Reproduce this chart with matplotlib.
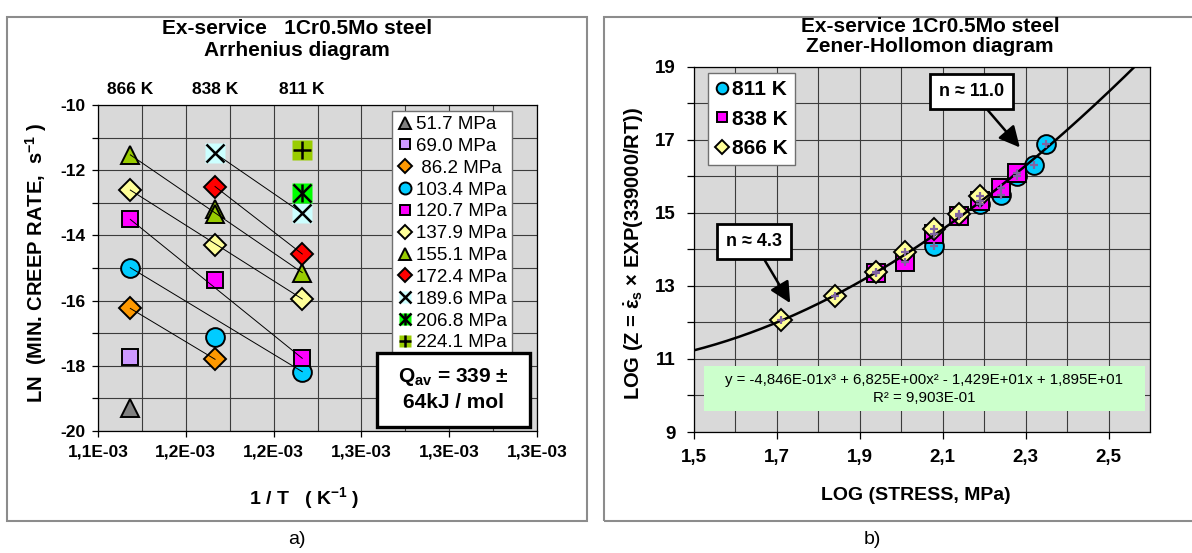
import numpy as np
import matplotlib
matplotlib.use("Agg")
import matplotlib.pyplot as plt
import matplotlib.transforms as mtransforms
from matplotlib.patches import Rectangle
from matplotlib.ticker import FixedLocator, MultipleLocator, FuncFormatter

plt.rcParams['font.family'] = ['Liberation Sans', 'DejaVu Sans']
plt.rcParams['font.weight'] = 'bold'
plt.rcParams['axes.labelweight'] = 'bold'
plt.rcParams['axes.unicode_minus'] = False
plt.rcParams['mathtext.fontset'] = 'custom'
plt.rcParams['mathtext.rm'] = 'Liberation Sans:bold'
plt.rcParams['mathtext.it'] = 'Liberation Sans:italic:bold'
plt.rcParams['mathtext.bf'] = 'Liberation Sans:bold'

# ---------------- Arrhenius diagram data: test temperature (K) and ln(min. creep rate)
stress_labels = ['51.7 MPa', '69.0 MPa', ' 86.2 MPa', '103.4 MPa', '120.7 MPa',
                 '137.9 MPa', '155.1 MPa', '172.4 MPa', '189.6 MPa', '206.8 MPa', '224.1 MPa']
T_517, LN_517 = [866], [-19.30]
T_690, LN_690 = [866], [-17.72]
T_862, LN_862 = [866, 838], [-16.24, -17.80]
T_1034, LN_1034 = [866, 838, 811], [-14.99, -17.13, -18.18]
T_1207, LN_1207 = [866, 838, 811], [-13.51, -15.37, -17.77]
T_1379, LN_1379 = [866, 838, 811], [-12.61, -14.29, -15.95]
T_1551, LN_1551 = [866, 838, 838, 811], [-11.53, -13.20, -13.35, -15.14]
T_1724, LN_1724 = [838, 811], [-12.50, -14.57]
T_1896, LN_1896 = [838, 811], [-11.48, -13.32]
T_2068, LN_2068 = [811], [-12.69]
T_2241, LN_2241 = [811], [-11.38]
temperature_labels = [866, 838, 811]

# ---------------- Zener-Hollomon diagram data: log(stress) and log(Z)
LOGS_811 = [2.08, 2.19, 2.24, 2.28, 2.32, 2.35]
LOGZ_811 = [14.08, 15.25, 15.49, 16.00, 16.31, 16.88]
LOGS_838 = [1.94, 2.01, 2.08, 2.14, 2.19, 2.24, 2.28]
LOGZ_838 = [13.36, 13.66, 14.42, 14.90, 15.33, 15.67, 16.10]
LOGS_866 = [1.71, 1.84, 1.94, 2.01, 2.08, 2.14, 2.19]
LOGZ_866 = [12.06, 12.73, 13.38, 13.93, 14.56, 14.97, 15.45]
fit_coeffs = [-4.846e-01, 6.825e+00, -1.429e+01, 1.895e+01]
fit_r2 = 9.903e-01

W, H = 1192, 553
fig = plt.figure(figsize=(W / 100, H / 100), dpi=100)
fig.patch.set_facecolor('white')

# panel frames
fig.patches.append(Rectangle((7 / W, 1 - 521 / H), 580 / W, 504 / H, transform=fig.transFigure,
                             fill=False, ec='#8c8c8c', lw=1.5))
fig.patches.append(Rectangle((604 / W, 1 - 521 / H), 600 / W, 504 / H, transform=fig.transFigure,
                             fill=False, ec='#8c8c8c', lw=1.5))

GRID = '#3c3c3c'
BG = '#D9D9D9'

# =============================== a) Arrhenius diagram
axL = fig.add_axes([98 / W, 1 - 431 / H, 439 / W, 326 / H])
axL.set_facecolor(BG)
axL.set_xlim(1.14e-3, 1.34e-3)
axL.set_ylim(-20, -10)
axL.xaxis.set_major_locator(FixedLocator(1.14e-3 + 0.04e-3 * np.arange(6)))
axL.xaxis.set_minor_locator(FixedLocator(1.16e-3 + 0.04e-3 * np.arange(5)))
axL.xaxis.set_major_formatter(FuncFormatter(lambda v, p: f'{v * 1e3:.1f}E-03'.replace('.', ',')))
axL.yaxis.set_major_locator(MultipleLocator(2))
axL.yaxis.set_minor_locator(MultipleLocator(1))
axL.yaxis.set_major_formatter(FuncFormatter(lambda v, p: f'{v:.0f}'))
axL.tick_params(axis='both', which='both', direction='out', length=4, width=0.9,
                labelsize=12.5, pad=5)
axL.tick_params(axis='x', which='minor', length=0)
axL.tick_params(axis='x', which='major', pad=6)
axL.grid(True, which='both', color=GRID, lw=0.8)
axL.set_axisbelow(True)
for sp in axL.spines.values():
    sp.set_color('black')
    sp.set_linewidth(0.9)

series_L = [
    (T_517, LN_517, dict(marker='^', ms=13, mfc='#808080')),
    (T_690, LN_690, dict(marker='s', ms=12, mfc='#CC99FF')),
    (T_862, LN_862, dict(marker='D', ms=11.5, mfc='#FF9900')),
    (T_1034, LN_1034, dict(marker='o', ms=13.5, mfc='#00CCFF')),
    (T_1207, LN_1207, dict(marker='s', ms=12, mfc='#FF00FF')),
    (T_1379, LN_1379, dict(marker='D', ms=11.5, mfc='#FFFF99')),
    (T_1551, LN_1551, dict(marker='^', ms=13, mfc='#99CC00')),
    (T_1724, LN_1724, dict(marker='D', ms=11.5, mfc='#FF0000')),
    (T_1896, LN_1896, dict(bg='#CCFFFF', glyphs=['x'])),
    (T_2068, LN_2068, dict(bg='#00FF00', glyphs=['x', '|'])),
    (T_2241, LN_2241, dict(bg='#99CC00', glyphs=['+'])),
]

handles = []
for T, LN, st in series_L:
    x = 1.0 / np.asarray(T, dtype=float)
    y = np.asarray(LN, dtype=float)
    if 'bg' in st:
        parts = [axL.plot(x, y, ls='none', marker='s', ms=14.5, mfc=st['bg'], mec='none', zorder=3)[0]]
        for g in st['glyphs']:
            parts += axL.plot(x, y, ls='none', marker=g, ms=13, mec='black', mew=1.8, zorder=3)
        handles.append(tuple(parts))
    else:
        h, = axL.plot(x, y, ls='none', marker=st['marker'], ms=st['ms'], mfc=st['mfc'],
                      mec='black', mew=1.4, zorder=3)
        handles.append(h)
    if len(x) > 1:
        axL.plot([x[0], x[-1]], [y[0], y[-1]], color='black', lw=0.7, zorder=4)

legL = axL.legend(handles, stress_labels, loc='upper left', bbox_to_anchor=(0.670, 0.982),
                  borderaxespad=0, prop={'size': 13.5, 'weight': 'normal'}, frameon=True,
                  fancybox=False, edgecolor='#707070', framealpha=1, handlelength=0.85,
                  handletextpad=0.12, labelspacing=0.25, borderpad=0.28, markerscale=0.64)
legL.get_frame().set_linewidth(1.0)

# activation energy box
axL.add_patch(Rectangle((0.635, 0.013), 0.349, 0.226, transform=axL.transAxes,
                        fc='white', ec='black', lw=2.4, zorder=6))
axL.text(0.809, 0.165, r'Q$_{\mathbf{av}}$ = 339 ±', transform=axL.transAxes, ha='center',
         va='center', fontsize=15, zorder=7)
axL.text(0.809, 0.088, '64kJ / mol', transform=axL.transAxes, ha='center', va='center',
         fontsize=15, zorder=7)

# temperature labels above the plot
tr = mtransforms.blended_transform_factory(axL.transData, axL.transAxes)
for Tk in temperature_labels:
    axL.text(1.0 / Tk, 1.049, f'{Tk} K', transform=tr, ha='center', va='center', fontsize=12.5)

axL.set_ylabel('LN  (MIN. CREEP RATE,  s$^{\\mathbf{-1}}$ )', fontsize=14.5)
axL.yaxis.set_label_coords(-0.112, 0.515)
axL.set_xlabel('1 / T   ( K$^{\\mathbf{-1}}$ )', fontsize=14)
axL.xaxis.set_label_coords(0.47, -0.165)

fig.text(297 / W, 1 - 29 / H, 'Ex-service   1Cr0.5Mo steel', ha='center', va='center', fontsize=15)
fig.text(297 / W, 1 - 51 / H, 'Arrhenius diagram', ha='center', va='center', fontsize=15)
fig.text(297 / W, 1 - 540 / H, 'a)', ha='center', va='center', fontsize=14, fontweight='normal')

# =============================== b) Zener-Hollomon diagram
axR = fig.add_axes([694 / W, 1 - 432 / H, 456 / W, 365.3 / H])
axR.set_facecolor(BG)
axR.set_xlim(1.5, 2.6)
axR.set_ylim(9, 19)
axR.xaxis.set_major_locator(FixedLocator([1.5, 1.7, 1.9, 2.1, 2.3, 2.5]))
axR.xaxis.set_minor_locator(FixedLocator([1.6, 1.8, 2.0, 2.2, 2.4, 2.6]))
axR.xaxis.set_major_formatter(FuncFormatter(lambda v, p: f'{v:.1f}'.replace('.', ',')))
axR.yaxis.set_major_locator(FixedLocator([9, 11, 13, 15, 17, 19]))
axR.yaxis.set_minor_locator(MultipleLocator(1))
axR.yaxis.set_major_formatter(FuncFormatter(lambda v, p: f'{v:.0f}'))
axR.tick_params(axis='both', which='both', direction='out', length=5, width=0.9, labelsize=13.5)
axR.tick_params(axis='x', which='minor', length=0)
axR.tick_params(axis='x', which='major', pad=7)
axR.tick_params(axis='y', which='major', pad=8)
axR.grid(True, which='both', color=GRID, lw=0.8)
axR.set_axisbelow(True)
for sp in axR.spines.values():
    sp.set_color('black')
    sp.set_linewidth(0.9)

h811, = axR.plot(LOGS_811, LOGZ_811, ls='none', marker='o', ms=13.5, mfc='#00CCFF', mec='black',
                 mew=1.4, zorder=3, label='811 K')
h838, = axR.plot(LOGS_838, LOGZ_838, ls='none', marker='s', ms=12.5, mfc='#FF00FF', mec='black',
                 mew=1.4, zorder=3, label='838 K')
h866, = axR.plot(LOGS_866, LOGZ_866, ls='none', marker='D', ms=11, mfc='#FFFF99', mec='black',
                 mew=1.4, zorder=3, label='866 K')
for xs, ys in [(LOGS_811, LOGZ_811), (LOGS_838, LOGZ_838), (LOGS_866, LOGZ_866)]:
    axR.plot(xs, ys, ls='none', marker='+', ms=6, mec='#8064A2', mew=1.6, zorder=5)

xs_fit = np.linspace(1.5, 2.6, 400)
axR.plot(xs_fit, np.polyval(fit_coeffs, xs_fit), color='black', lw=1.8, zorder=4)

legR = axR.legend(handles=[h811, h838, h866], loc='upper left', bbox_to_anchor=(0.031, 0.983),
                  borderaxespad=0, prop={'size': 15, 'weight': 'bold'}, frameon=True,
                  fancybox=False, edgecolor='#707070', framealpha=1, handlelength=0.65,
                  handletextpad=0.15, labelspacing=0.5, borderpad=0.35, markerscale=0.62)
legR.get_frame().set_linewidth(1.0)


def sci_comma(v):
    return f'{v:.3E}'.replace('.', ',')


c3, c2, c1, c0 = fit_coeffs
eq = (f'y = {sci_comma(c3)}x³ {"+" if c2 >= 0 else "-"} {sci_comma(abs(c2))}x² '
      f'{"+" if c1 >= 0 else "-"} {sci_comma(abs(c1))}x {"+" if c0 >= 0 else "-"} {sci_comma(abs(c0))}')
axR.add_patch(Rectangle((0.022, 0.058), 0.967, 0.123, transform=axR.transAxes,
                        fc='#CCFFCC', ec='none', zorder=6))
axR.text(0.505, 0.142, eq, transform=axR.transAxes, ha='center', va='center', fontsize=10.8,
         fontweight='normal', zorder=7)
axR.text(0.505, 0.093, f'R² = {sci_comma(fit_r2)}', transform=axR.transAxes, ha='center',
         va='center', fontsize=10.8, fontweight='normal', zorder=7)

arrow = dict(arrowstyle='-|>,head_length=0.9,head_width=0.45', color='black', lw=1.8,
             mutation_scale=14, shrinkA=0, shrinkB=0)
box = dict(boxstyle='square,pad=0.5', fc='white', ec='black', lw=2.0)
axR.annotate('n ≈ 4.3', xy=(1.732, 12.53), xytext=(1.644, 14.21), ha='center', va='center',
             fontsize=13, bbox=box, arrowprops=arrow, zorder=8)
axR.annotate('n ≈ 11.0', xy=(2.286, 16.79), xytext=(2.170, 18.32), ha='center', va='center',
             fontsize=13, bbox=box, arrowprops=arrow, zorder=8)

axR.set_ylabel(r'LOG (Z = $\dot{\mathbf{\varepsilon}}_{\mathbf{s}}$ × EXP(339000/RT))', fontsize=14.5)
axR.yaxis.set_label_coords(-0.106, 0.49)
axR.set_xlabel('LOG (STRESS, MPa)', fontsize=14)
axR.xaxis.set_label_coords(0.487, -0.15)

fig.text(930 / W, 1 - 26 / H, 'Ex-service 1Cr0.5Mo steel', ha='center', va='center', fontsize=15)
fig.text(930 / W, 1 - 47 / H, 'Zener-Hollomon diagram', ha='center', va='center', fontsize=15)
fig.text(872 / W, 1 - 540 / H, 'b)', ha='center', va='center', fontsize=14, fontweight='normal')

fig.savefig('out.png', dpi=100)
